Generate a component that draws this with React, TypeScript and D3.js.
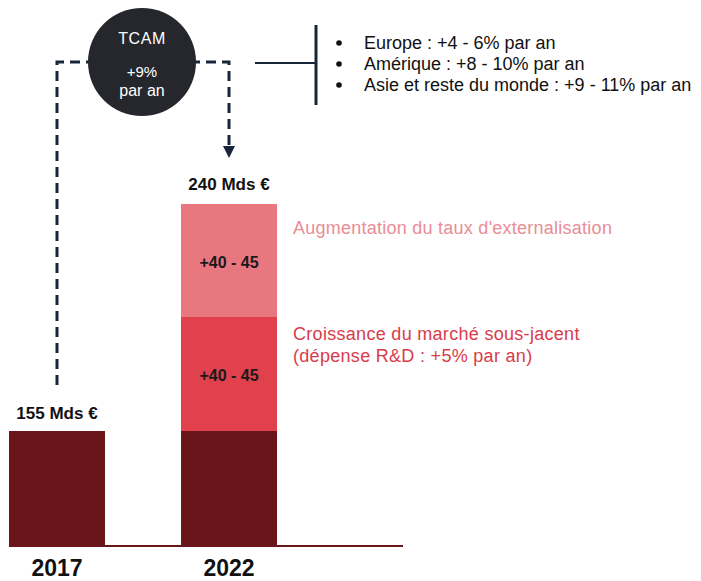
import React from "react";
import * as d3 from "d3";

const years = ["2017", "2022"];
const totalLabels = ["155 Mds €", "240 Mds €"];
const baseValue = 155;
const segmentNames = ["Croissance du marché sous-jacent", "Augmentation du taux d'externalisation"];
const segmentValues = [42.5, 42.5];
const segmentLabels = ["+40 - 45", "+40 - 45"];
const regionGrowth = [
  "Europe : +4 - 6% par an",
  "Amérique : +8 - 10% par an",
  "Asie et reste du monde : +9 - 11% par an",
];
const cagrLines = ["TCAM", "+9%", "par an"];

const W = 701;
const H = 581;
const DARK = "#6a1519";
const RED = "#e0414d";
const PINK = "#e97780";
const NAVY = "#17263a";
const FONT = "'Liberation Sans', Arial, sans-serif";

export default function App() {
  const x = d3.scaleBand<string>().domain(years).range([9, 277]).paddingInner(0.442).paddingOuter(0);
  const cum = [0, baseValue, baseValue + segmentValues[0], baseValue + segmentValues[0] + segmentValues[1]];
  // schematic (non-proportional) stacked scale, each layer drawn with equal emphasis
  const y = d3.scaleLinear().domain(cum).range([546, 431, 317, 204]);

  const bw = x.bandwidth();
  const x17 = x("2017")!;
  const x22 = x("2022")!;
  const c17 = x17 + bw / 2;
  const c22 = x22 + bw / 2;

  const segs = segmentValues.map((v, i) => ({
    y0: cum[i + 1],
    y1: cum[i + 2],
    color: i === 0 ? RED : PINK,
    label: segmentLabels[i],
    name: segmentNames[i],
  }));

  const lineY = 62;
  const circ = { cx: 142, cy: 62, r: 54 };
  const dash = "10 6";

  return (
    <svg width={W} height={H} style={{ position: "absolute", left: 0, top: 0, background: "#fff" }} fontFamily={FONT}>
      {/* 2017 bar */}
      <rect x={x17} y={y(baseValue)} width={bw} height={y(0) - y(baseValue)} fill={DARK} />
      {/* 2022 stacked */}
      <rect x={x22} y={y(baseValue)} width={bw} height={y(0) - y(baseValue)} fill={DARK} />
      {segs.map((s, i) => (
        <g key={i}>
          <rect x={x22} y={y(s.y1)} width={bw} height={y(s.y0) - y(s.y1)} fill={s.color} />
          <text x={c22} y={(y(s.y0) + y(s.y1)) / 2 + 7} textAnchor="middle" fontSize={16} fontWeight="bold" fill="#1a1a1a">
            {s.label}
          </text>
        </g>
      ))}
      {/* baseline */}
      <line x1={x17} x2={403} y1={y(0)} y2={y(0)} stroke={DARK} strokeWidth={2} />

      {/* totals */}
      <text x={c17} y={y(baseValue) - 12} textAnchor="middle" fontSize={17} fontWeight="bold" fill="#111">{totalLabels[0]}</text>
      <text x={c22} y={y(cum[3]) - 14} textAnchor="middle" fontSize={17} fontWeight="bold" fill="#111">{totalLabels[1]}</text>

      {/* year labels */}
      {years.map((yr) => (
        <text key={yr} x={x(yr)! + bw / 2} y={576} textAnchor="middle" fontSize={23} fontWeight="bold" fill="#111">{yr}</text>
      ))}

      {/* segment legends */}
      <text x={293} y={y(cum[3]) + 30} fontSize={18} letterSpacing={0.25} fill="#e98d96">{segs[1].name}</text>
      <text x={293} y={y(cum[2]) + 23} fontSize={18} letterSpacing={0.3} fill="#d93c49">{segs[0].name}</text>
      <text x={293} y={y(cum[2]) + 45} fontSize={18} letterSpacing={0.3} fill="#d93c49">(dépense R&amp;D : +5% par an)</text>

      {/* dashed connector */}
      <path d={`M${c17},385 V${lineY} H${circ.cx}`} fill="none" stroke={NAVY} strokeWidth={3} strokeDasharray={dash} />
      <path d={`M${circ.cx},${lineY} H${c22} V148`} fill="none" stroke={NAVY} strokeWidth={3} strokeDasharray={dash} />
      <path d={`M${c22 - 6},146 L${c22 + 6},146 L${c22},158 Z`} fill={NAVY} />

      {/* CAGR circle */}
      <circle cx={circ.cx} cy={circ.cy} r={circ.r} fill="#26272d" />
      <text x={circ.cx} y={44} textAnchor="middle" fontSize={16} letterSpacing={0.6} fill="#fff">{cagrLines[0]}</text>
      <text x={circ.cx} y={77} textAnchor="middle" fontSize={15} fill="#fff">{cagrLines[1]}</text>
      <text x={circ.cx} y={96} textAnchor="middle" fontSize={16} fill="#fff">{cagrLines[2]}</text>

      {/* bracket to regional growth */}
      <line x1={255} x2={316} y1={63} y2={63} stroke={NAVY} strokeWidth={2} />
      <line x1={316} x2={316} y1={25} y2={105} stroke={NAVY} strokeWidth={3} />
      {regionGrowth.map((t, i) => (
        <g key={t}>
          <circle cx={339} cy={43 + i * 21} r={2.8} fill="#111" />
          <text x={364} y={49 + i * 21} fontSize={18} fill="#111">{t}</text>
        </g>
      ))}
    </svg>
  );
}
